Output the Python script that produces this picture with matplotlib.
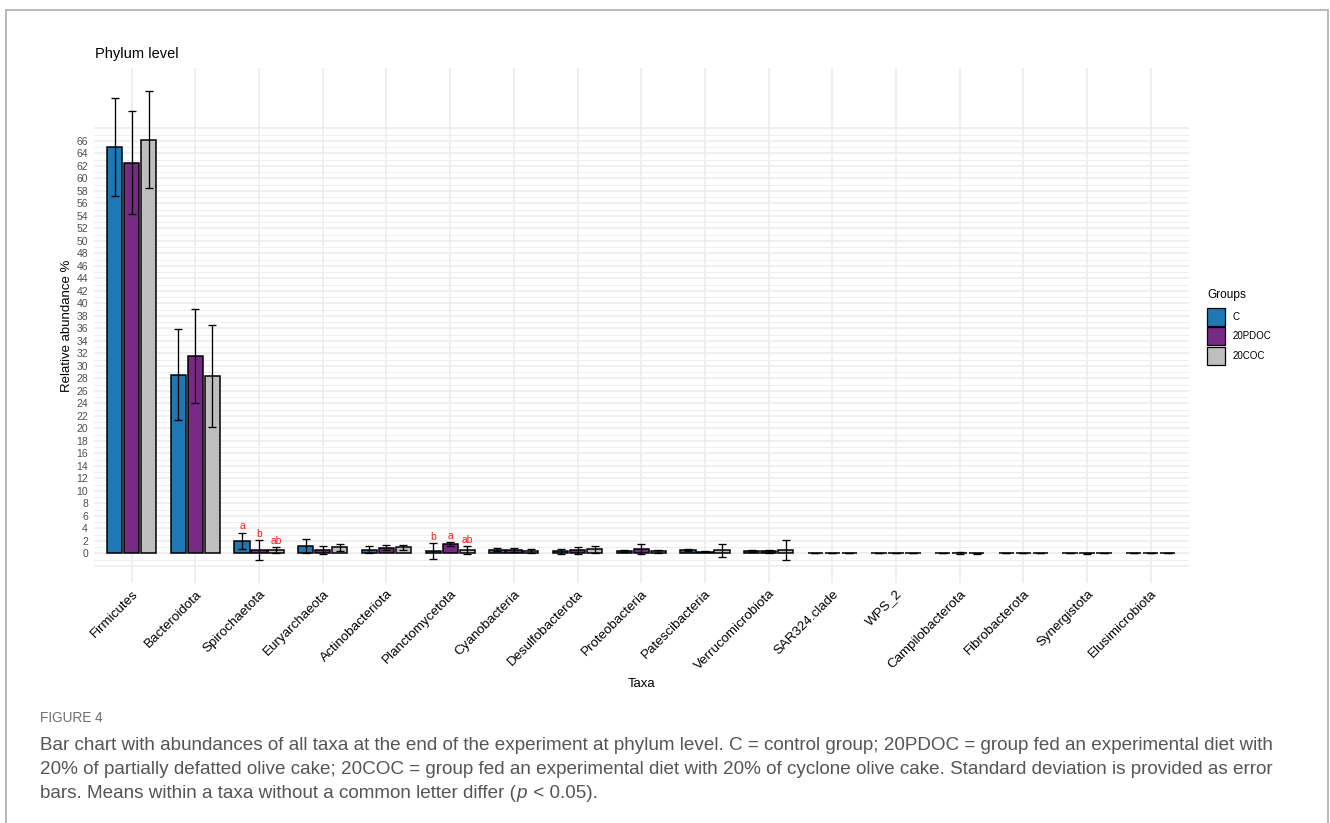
import matplotlib
matplotlib.use("Agg")
import matplotlib.pyplot as plt
import numpy as np
from matplotlib.patches import Patch, Rectangle

# ---- data -------------------------------------------------------------
taxa = ["Firmicutes", "Bacteroidota", "Spirochaetota", "Euryarchaeota",
        "Actinobacteriota", "Planctomycetota", "Cyanobacteria",
        "Desulfobacterota", "Proteobacteria", "Patescibacteria",
        "Verrucomicrobiota", "SAR324.clade", "WPS_2", "Campilobacterota",
        "Fibrobacterota", "Synergistota", "Elusimicrobiota"]

groups = ["C", "20PDOC", "20COC"]

mean_c = [65.0, 28.6, 2.0, 1.2, 0.6, 0.35, 0.55, 0.35, 0.35, 0.5, 0.35,
          0.02, 0.01, 0.03, 0.01, 0.01, 0.01]
sd_c = [7.9, 7.3, 1.3, 1.15, 0.55, 1.25, 0.25, 0.4, 0.2, 0.2, 0.2,
        0.01, 0.01, 0.05, 0.01, 0.01, 0.01]

mean_pdoc = [62.5, 31.6, 0.5, 0.55, 0.9, 1.45, 0.55, 0.5, 0.7, 0.25, 0.3,
             0.02, 0.01, 0.05, 0.01, 0.02, 0.01]
sd_pdoc = [8.2, 7.5, 1.6, 0.7, 0.4, 0.3, 0.35, 0.55, 0.85, 0.1, 0.18,
           0.01, 0.01, 0.12, 0.01, 0.08, 0.01]

mean_coc = [66.2, 28.4, 0.5, 0.95, 1.0, 0.5, 0.4, 0.65, 0.35, 0.5, 0.6,
            0.02, 0.01, 0.03, 0.01, 0.01, 0.01]
sd_coc = [7.8, 8.2, 0.45, 0.5, 0.4, 0.6, 0.3, 0.6, 0.25, 1.05, 1.6,
          0.01, 0.01, 0.08, 0.01, 0.01, 0.01]

# significance letters: (taxon, group) -> letter
letters = {("Spirochaetota", "C"): "a",
           ("Spirochaetota", "20PDOC"): "b",
           ("Spirochaetota", "20COC"): "ab",
           ("Planctomycetota", "C"): "b",
           ("Planctomycetota", "20PDOC"): "a",
           ("Planctomycetota", "20COC"): "ab"}

y_labels = list(range(0, 67, 2))

colors = ["#1F77B4", "#762A83", "#BEBEBE"]

# ---- figure -----------------------------------------------------------
W, H = 1330, 823
fig = plt.figure(figsize=(W / 100, H / 100), dpi=100)
plt.rcParams["font.family"] = ["Liberation Sans", "DejaVu Sans"]


def fx(px):
    return px / W


def fy(py):
    return 1 - py / H


ax = fig.add_axes([fx(93.5), fy(583), fx(1189) - fx(93.5), fy(68) - fy(583)])

x = np.arange(len(taxa))
dodge = 0.8 / 3
bar_w = 0.24
means = [mean_c, mean_pdoc, mean_coc]
sds = [sd_c, sd_pdoc, sd_coc]

for gi, (g, m, s, col) in enumerate(zip(groups, means, sds, colors)):
    xs = x + (gi - 1) * dodge
    ax.bar(xs, m, width=bar_w, color=col, edgecolor="black",
           linewidth=1.1, zorder=3)
    ax.errorbar(xs, m, yerr=s, fmt="none", ecolor="black", elinewidth=0.95,
                capsize=2.8, capthick=0.95, zorder=4)
    for ti, t in enumerate(taxa):
        lab = letters.get((t, g))
        if lab:
            ax.annotate(lab, (xs[ti], m[ti] + s[ti]), xytext=(0, 2.3),
                        textcoords="offset points", ha="center",
                        va="baseline", color="#FF1A1A", fontsize=7.4,
                        zorder=5)

ax.set_xlim(-0.6, len(taxa) - 0.4)
ax.set_ylim(-4.75, 77.65)

# y ticks: gridlines reach one step beyond the labelled range
major = list(range(-2, 69, 2))
ax.set_yticks(major)
ax.set_yticklabels([str(v) if v in y_labels else "" for v in major])
ax.set_yticks(list(range(-1, 68, 2)), minor=True)
ax.set_xticks(x)
ax.set_xticklabels(taxa, rotation=45, ha="right", va="top",
                   rotation_mode="anchor", fontsize=9.6, color="black")

ax.tick_params(axis="y", which="both", length=0, pad=4.0, labelsize=7.5,
               labelcolor="#4D4D4D")
ax.tick_params(axis="x", length=0, pad=3.5)

ax.grid(axis="y", which="major", color="#EBEBEB", linewidth=1.1, zorder=0)
ax.grid(axis="y", which="minor", color="#EBEBEB", linewidth=0.6, zorder=0)
ax.grid(axis="x", which="major", color="#EBEBEB", linewidth=1.1, zorder=0)
ax.set_axisbelow(True)
for sp in ax.spines.values():
    sp.set_visible(False)

ax.set_xlabel("Taxa", fontsize=9.5)
ax.xaxis.set_label_coords(0.5, -(684 - 583) / 515)
ax.xaxis.label.set_va("center")
ax.set_ylabel("Relative abundance %", fontsize=9.5)
ax.yaxis.set_label_coords(-(93.5 - 67) / 1095.5, 0.5)
ax.yaxis.label.set_va("center")

fig.text(fx(95), fy(54), "Phylum level", fontsize=10.5, ha="left",
         va="center", color="black")

# legend
handles = [Patch(facecolor=c, edgecolor="black", linewidth=0.9) for c in colors]
leg = fig.legend(handles, groups, loc="upper left",
                 bbox_to_anchor=(fx(1207), fy(289)), frameon=False,
                 fontsize=7.0, title="Groups", title_fontsize=8.6,
                 handlelength=1.9, handleheight=2.47, labelspacing=0.15,
                 handletextpad=0.72, borderpad=0, borderaxespad=0,
                 alignment="left")
leg._legend_box.sep = 5

# caption
cap_font = ["Liberation Sans", "DejaVu Sans"]
cap_size = 13.6
cap_color = "#555555"
fig.text(fx(40), fy(718), "FIGURE 4", fontsize=9.8, color="#6E6E6E",
         ha="left", va="center", family=cap_font)
caption = [
    "Bar chart with abundances of all taxa at the end of the experiment at phylum level. C = control group; 20PDOC = group fed an experimental diet with",
    "20% of partially defatted olive cake; 20COC = group fed an experimental diet with 20% of cyclone olive cake. Standard deviation is provided as error",
    "bars. Means within a taxa without a common letter differ (",
]
ys = [745, 769.5, 794]
for line, yy in zip(caption, ys):
    fig.text(fx(40), fy(yy), line, fontsize=cap_size, color=cap_color,
             ha="left", va="center", family=cap_font)

# last line continues with an italic p
t3 = fig.texts[-1]
fig.canvas.draw()
bb = t3.get_window_extent()
tp = fig.text(bb.x1 / W, fy(794), "p", fontsize=cap_size, color=cap_color,
              ha="left", va="center", family=cap_font, style="italic")
fig.canvas.draw()
bb2 = tp.get_window_extent()
fig.text(bb2.x1 / W + 0.001, fy(794), " < 0.05).", fontsize=cap_size,
         color=cap_color, ha="left", va="center", family=cap_font)

# outer frame
fig.add_artist(Rectangle((fx(6), -0.1), fx(1328) - fx(6), fy(10) + 0.1,
                         transform=fig.transFigure, fill=False,
                         edgecolor="#A6A6A6", linewidth=1.1))

fig.savefig("out.png", dpi=100)
